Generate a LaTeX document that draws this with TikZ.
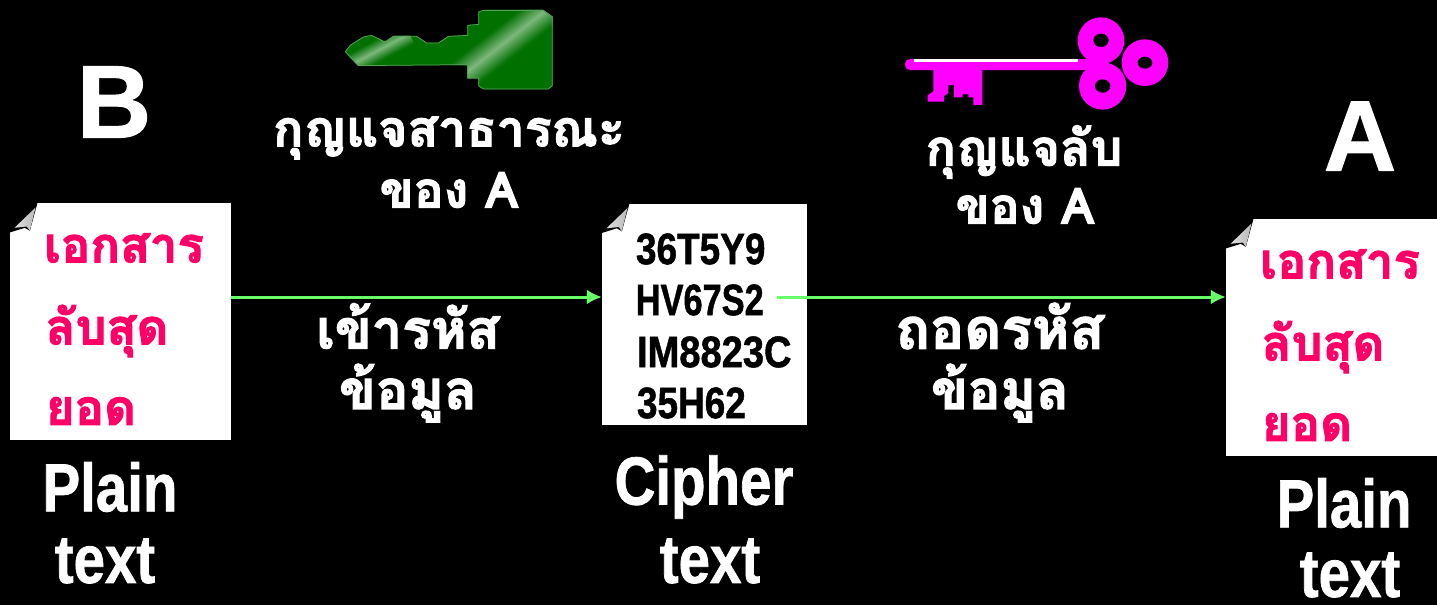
\documentclass[tikz,border=0pt]{standalone}
\usepackage{fontspec}
\setmainfont[BoldFeatures={FakeBold=1.2}]{Liberation Sans}
\newfontfamily\thaifont[Script=Thai,BoldFeatures={FakeBold=2.2}]{Loma}
\usetikzlibrary{arrows.meta}
\definecolor{docpink}{HTML}{FF0066}
\definecolor{keygreen}{HTML}{007000}
\definecolor{keylight}{HTML}{7DB87D}
\definecolor{keymagenta}{HTML}{FF00FF}
\definecolor{arrowgreen}{HTML}{66FF66}
\tikzset{
    page/.style={fill=white,inner sep=0pt,minimum width=221,minimum height=237},
    thaitext/.style={white,font=\thaifont\bfseries\fontsize{50}{50}\selectfont},
    thaibig/.style={white,font=\thaifont\bfseries\fontsize{54}{54}\selectfont},
    doctext/.style={docpink,font=\thaifont\bfseries\fontsize{49}{49}\selectfont},
    cipher/.style={black,anchor=west,xscale=0.84,font=\bfseries\fontsize{44}{44}\selectfont},
    plain/.style={white,inner sep=0pt,xscale=0.83,font=\bfseries\fontsize{68}{68}\selectfont},
    link/.style={arrowgreen,line width=3,-{Latex[length=15,width=15]}}
}
\newcommand{\pagecorner}[1]{
    \begin{scope}[shift={(#1.north west)}]
    \fill[black] (-1,-1) -- (28,-1) -- (20,28) -- (15,25) -- (-1,30) -- cycle;
    \fill[left color=gray!25,right color=gray!55] (25.7,4.7) -- (4.7,25) -- (17,23.7) -- (20,28) -- cycle;
    \end{scope}
}
\newcommand{\keyshape}{(45,155) -- (60,135) -- (100,110) -- (125,105) -- (165,125) -- (190,108) -- (260,108) -- (290,128)
    -- (325,128) -- (355,108) -- (412,105) -- (412,75) -- (445,72) -- (445,35) -- (460,30) -- (640,30)
    -- (668,50) -- (668,258) -- (655,268) -- (460,268) -- (445,258) -- (445,235) -- (412,235) -- (412,195)
    -- (85,198) -- (60,172) -- cycle}
\begin{document}
\begin{tikzpicture}[x=1pt,y=-1pt]
    \useasboundingbox (0,0) rectangle (1437,605);
    \fill[black] (0,0) rectangle (1437,605);
    % green key
    \begin{scope}[shift={(330,0)},scale=1/3]
    \begin{scope}
    \clip \keyshape;
    \fill[keygreen] (0,0) rectangle (720,300);
    \begin{scope}[shift={(530,125)},rotate=38]
    \foreach \d in {-48,-45,...,48} {
        \pgfmathtruncatemacro{\p}{100*(1-abs(\d)/50)}
        \draw[keylight!\p!keygreen,line width=1.6] (-210,\d) -- (210,\d);
    }
    \end{scope}
    \begin{scope}[shift={(150,150)},rotate=28]
    \foreach \d in {-30,-27,...,30} {
        \pgfmathtruncatemacro{\p}{100*(1-abs(\d)/32)}
        \draw[keylight!\p!keygreen,line width=1.6] (-100,\d) -- (100,\d);
    }
    \end{scope}
    \draw[keylight!70!keygreen,line width=1.5] \keyshape;
    \end{scope}
    \end{scope}
    % magenta key
    \begin{scope}[shift={(890,10)},scale=1/3]
    \fill[keymagenta,rounded corners=5] (45,147) rectangle (620,180);
    \fill[white] (72,148) rectangle (565,156);
    \fill[keymagenta] (130,180) -- (130,245) -- (113,255) -- (113,275) -- (162,275) -- (162,258) -- (175,250)
        -- (175,225) -- (192,225) -- (192,262) -- (218,262) -- (218,252) -- (235,252) -- (235,262) -- (250,262)
        -- (250,285) -- (277,285) -- (277,180) -- cycle;
    \fill[keymagenta] (633,92) circle (70);
    \fill[keymagenta] (638,228) circle (71);
    \fill[keymagenta] (765,158) circle (70);
    \fill[black] (633,91) ellipse (23 and 20);
    \fill[black] (638,228) ellipse (23 and 20);
    \fill[black] (765,158) ellipse (22 and 18);
    \end{scope}
    % pages
    \node[page] (plainb) at (120.5,321.5) {};
    \node[page,minimum width=205,minimum height=221] (cipherdoc) at (704.5,314) {};
    \node[page] (plaina) at (1336.5,337.5) {};
    \pagecorner{plainb}
    \pagecorner{cipherdoc}
    \pagecorner{plaina}
    \node[white,font=\bfseries\fontsize{103}{103}\selectfont] (nameb) at (114,102) {B};
    \node[white,font=\bfseries\fontsize{100}{100}\selectfont] (namea) at (1360,136) {A};
    \node[thaitext] (pubkey) at (449,138) {กุญแจสาธารณะ};
    \node[thaitext] (pubowner) at (449,190) {ของ A};
    \node[thaitext] (privkey) at (1024,152) {กุญแจลับ};
    \node[thaitext] (privowner) at (1025,206) {ของ A};
    \node[thaibig] (encrypt) at (408,326) {เข้ารหัส};
    \node[thaibig] (encrypttwo) at (408,393) {ข้อมูล};
    \node[thaibig,font=\thaifont\bfseries\fontsize{57}{57}\selectfont] (decrypt) at (1000,326) {ถอดรหัส};
    \node[thaibig] (decrypttwo) at (1000,393) {ข้อมูล};
    \node[doctext] (bline) at (124,248) {เอกสาร};
    \node[doctext] (bliner) at (107,331) {ลับสุด};
    \node[doctext] (blinet) at (91,411) {ยอด};
    \node[doctext] (aline) at (1340,264) {เอกสาร};
    \node[doctext] (aliner) at (1323,347) {ลับสุด};
    \node[doctext] (alinet) at (1307,427) {ยอด};
    \node[cipher] (cone) at (633,249) {36T5Y9};
    \node[cipher,xscale=0.93] (ctwo) at (633,300) {HV67S2};
    \node[cipher,xscale=1.03] (cthree) at (634,352) {IM8823C};
    \node[cipher] (cfour) at (634,403) {35H62};
    \node[plain] (bplain) at (110,487) {Plain};
    \node[plain] (btext) at (105,561) {text};
    \node[plain] (cplain) at (704,487) {Cipher};
    \node[plain] (ctext) at (710,561) {text};
    \node[plain] (aplain) at (1344,503) {Plain};
    \node[plain] (atext) at (1350,575) {text};
    % arrows
    \coordinate (linkstart) at (777,297);
    \draw[link] (plainb.east |- linkstart) -- (cipherdoc.west |- linkstart);
    \draw[link] (linkstart) -- (plaina.west |- linkstart);
\end{tikzpicture}
\end{document}
